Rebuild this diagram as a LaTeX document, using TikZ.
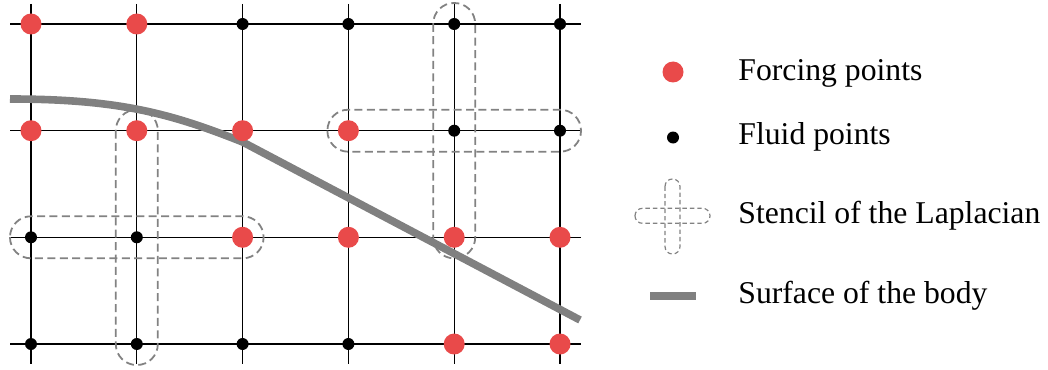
\documentclass[tikz,border=0pt]{standalone}
\usepackage{fontspec}
\setmainfont{Liberation Serif}
\definecolor{forcered}{RGB}{233,74,74}
\definecolor{surfgray}{RGB}{128,128,128}
\definecolor{stengray}{RGB}{130,130,130}
\tikzset{
  forcing/.style={circle,fill=forcered,inner sep=0pt,minimum size=10.5pt},
  fluid/.style={circle,fill=black,inner sep=0pt,minimum size=6pt},
  gridline/.style={line width=0.65pt,black},
  stencilbox/.style={draw=stengray,line width=0.9pt,dash pattern=on 4pt off 2.2pt,rounded corners=10.4pt},
  stenciltiny/.style={draw=stengray,line width=0.6pt,dash pattern=on 2.2pt off 1.5pt,rounded corners=3.7pt},
  surface/.style={draw=surfgray,line width=3.8pt},
  legtext/.style={anchor=base west,inner sep=0pt,font=\fontsize{15.85}{19}\selectfont}
}
\begin{document}
\begin{tikzpicture}[x=0.5pt,y=-0.5pt]
\useasboundingbox (0,0) rectangle (1048,369);
% grid
\foreach \gx in {31,136.8,242.6,348.4,454.2,560} {
  \draw[gridline] (\gx,4) -- (\gx,364);
}
\foreach \gy in {24,130.7,237.3,344} {
  \draw[gridline] (10,\gy) -- (581,\gy);
}
% stencils
\draw[stencilbox] (10,216.3) rectangle (263.6,258.3);
\draw[stencilbox] (115.8,109.7) rectangle (157.8,365);
\draw[stencilbox] (327.4,109.7) rectangle (581,151.7);
\draw[stencilbox] (433.2,3) rectangle (475.2,258.3);
% surface of the body
\draw[surface] (10,99) .. controls (120,99) and (172,114) .. (242.6,142) -- (580,320);
% points
\node[forcing] (p00) at (31,24) {};
\node[forcing] (p10) at (136.8,24) {};
\node[fluid] (p20) at (242.6,24) {};
\node[fluid] (p30) at (348.4,24) {};
\node[fluid] (p40) at (454.2,24) {};
\node[fluid] (p50) at (560,24) {};
\node[forcing] (p01) at (31,130.7) {};
\node[forcing] (p11) at (136.8,130.7) {};
\node[forcing] (p21) at (242.6,130.7) {};
\node[forcing] (p31) at (348.4,130.7) {};
\node[fluid] (p41) at (454.2,130.7) {};
\node[fluid] (p51) at (560,130.7) {};
\node[fluid] (p02) at (31,237.3) {};
\node[fluid] (p12) at (136.8,237.3) {};
\node[forcing] (p22) at (242.6,237.3) {};
\node[forcing] (p32) at (348.4,237.3) {};
\node[forcing] (p42) at (454.2,237.3) {};
\node[forcing] (p52) at (560,237.3) {};
\node[fluid] (p03) at (31,344) {};
\node[fluid] (p13) at (136.8,344) {};
\node[fluid] (p23) at (242.6,344) {};
\node[fluid] (p33) at (348.4,344) {};
\node[forcing] (p43) at (454.2,344) {};
\node[forcing] (p53) at (560,344) {};
% legend
\node[forcing] (lf) at (673,72) {};
\node[fluid] (ll) at (673,137.5) {};
\draw[stenciltiny] (635,208.3) rectangle (710,223.3);
\draw[stenciltiny] (665,179) rectangle (680,254);
\draw[surfgray,line width=4pt] (650,296) -- (696,296);
\node[legtext] (t1) at (738,81) {Forcing points};
\node[legtext] (t2) at (738,144) {Fluid points};
\node[legtext] (t3) at (738,223) {Stencil of the Laplacian};
\node[legtext] (t4) at (738,303) {Surface of the body};
\end{tikzpicture}
\end{document}
